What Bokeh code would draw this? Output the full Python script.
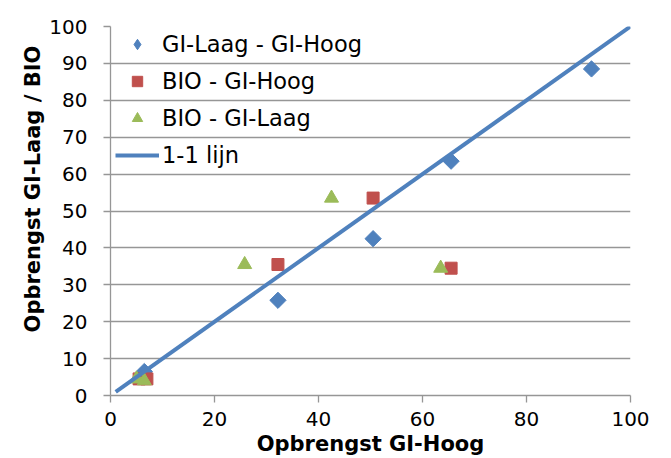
import math
from bokeh.plotting import figure
from bokeh.models import Legend, LegendItem, FixedTicker, Range1d
from bokeh.embed import file_html
from bokeh.resources import INLINE

# Data
gl_gh_x = [6.5, 32.2, 50.5, 65.5, 92.5]
gl_gh_y = [6.5, 25.8, 42.5, 63.5, 88.5]
bio_gh_x = [5.5, 7.0, 32.2, 50.5, 65.5]
bio_gh_y = [4.5, 4.5, 35.5, 53.5, 34.5]
bio_gl_x = [5.0, 6.5, 25.8, 42.5, 63.5]
bio_gl_y = [4.5, 4.0, 35.5, 53.5, 34.5]
line_x = [1, 100]
line_y = [1, 100]
x_ticks = [0, 20, 40, 60, 80, 100]
y_ticks = [0, 10, 20, 30, 40, 50, 60, 70, 80, 90, 100]

BLUE = "#4F81BD"
RED = "#C0504D"
GREEN = "#9BBB59"
GRAY = "#969696"

p = figure(width=663, height=458, output_backend="svg", toolbar_location=None,
           x_range=Range1d(0, 100), y_range=Range1d(0, 100),
           min_border_left=110, min_border_right=33, min_border_top=26, min_border_bottom=63)
p.outline_line_color = None
p.background_fill_color = "white"
p.border_fill_color = "white"

r1 = p.scatter(gl_gh_x, gl_gh_y, marker="square", size=11.5, angle=math.pi / 4,
               color=BLUE, line_color=BLUE)
# legend proxy (hidden in the plot) so the legend shows a diamond
r1_leg = p.scatter(gl_gh_x, gl_gh_y, marker="diamond", size=16, color=BLUE,
                   line_color=BLUE, visible=False)
r2 = p.scatter(bio_gh_x, bio_gh_y, marker="square", size=12, color=RED, line_color=RED)
r3 = p.scatter(bio_gl_x, bio_gl_y, marker="triangle", size=14, color=GREEN, line_color=GREEN)
r4 = p.line(line_x, line_y, line_width=4, color=BLUE)

p.xgrid.visible = False
p.ygrid.grid_line_color = GRAY
p.ygrid.grid_line_width = 1.3
p.ygrid.ticker = FixedTicker(ticks=y_ticks)

for ax in (p.xaxis[0], p.yaxis[0]):
    ax.axis_line_color = GRAY
    ax.axis_line_width = 1.3
    ax.major_tick_line_color = GRAY
    ax.major_tick_line_width = 1.3
    ax.major_tick_out = 7
    ax.major_tick_in = 0
    ax.minor_tick_line_color = None
    ax.major_label_text_font = "DejaVu Sans"
    ax.major_label_text_font_size = "20px"
    ax.major_label_text_color = "black"
    ax.axis_label_text_font = "DejaVu Sans"
    ax.axis_label_text_font_style = "bold"
    ax.axis_label_text_font_size = "21px"
    ax.axis_label_text_color = "black"

p.xaxis[0].ticker = FixedTicker(ticks=x_ticks)
p.yaxis[0].ticker = FixedTicker(ticks=y_ticks)
p.xaxis[0].major_label_standoff = 9
p.yaxis[0].major_label_standoff = 16
p.xaxis[0].axis_label = "Opbrengst GI-Hoog"
p.xaxis[0].axis_label_standoff = 3
p.yaxis[0].axis_label = "\u00a0" * 6 + "Opbrengst GI-Laag / BIO"
p.yaxis[0].axis_label_standoff = 1

legend = Legend(items=[
    LegendItem(label="GI-Laag - GI-Hoog", renderers=[r1_leg]),
    LegendItem(label="BIO - GI-Hoog", renderers=[r2]),
    LegendItem(label="BIO - GI-Laag", renderers=[r3]),
    LegendItem(label="1-1 lijn", renderers=[r4]),
], location="top_left")
legend.margin = 5
legend.padding = 6
legend.glyph_width = 44
legend.glyph_height = 26
legend.label_height = 26
legend.spacing = 11
legend.label_standoff = 3
legend.label_text_font = "DejaVu Sans"
legend.label_text_font_size = "22.5px"
legend.label_text_color = "black"
legend.background_fill_alpha = 0
legend.border_line_color = None
legend.inactive_fill_alpha = 0
p.add_layout(legend)

open("out.html", "w").write(file_html(p, INLINE))
